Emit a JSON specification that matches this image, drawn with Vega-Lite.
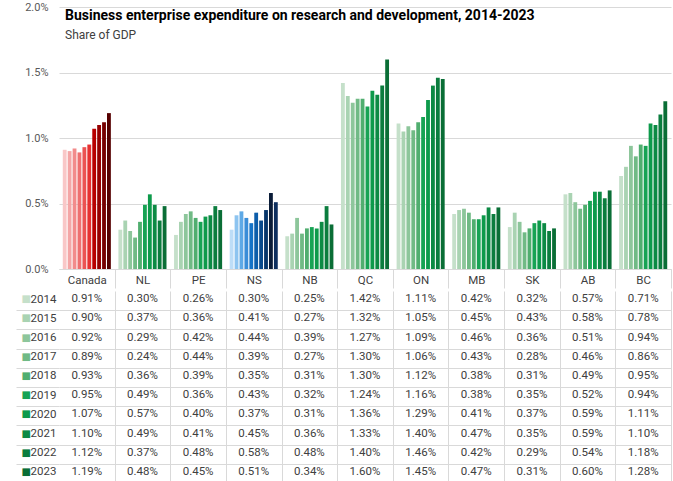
{
  "$schema": "https://vega.github.io/schema/vega-lite/v6.json",
  "background": "white",
  "padding": {"left": 15, "top": 1, "right": 2, "bottom": 0},
  "spacing": -4,
  "config": {"font": "Roboto", "view": {"stroke": null}, "axis": {"labelFont": "Roboto"}},
  "datasets": {
    "d": [
      {"r":"Canada","y":"2014","v":0.0091},{"r":"NL","y":"2014","v":0.0030},{"r":"PE","y":"2014","v":0.0026},{"r":"NS","y":"2014","v":0.0030},{"r":"NB","y":"2014","v":0.0025},{"r":"QC","y":"2014","v":0.0142},{"r":"ON","y":"2014","v":0.0111},{"r":"MB","y":"2014","v":0.0042},{"r":"SK","y":"2014","v":0.0032},{"r":"AB","y":"2014","v":0.0057},{"r":"BC","y":"2014","v":0.0071},
      {"r":"Canada","y":"2015","v":0.0090},{"r":"NL","y":"2015","v":0.0037},{"r":"PE","y":"2015","v":0.0036},{"r":"NS","y":"2015","v":0.0041},{"r":"NB","y":"2015","v":0.0027},{"r":"QC","y":"2015","v":0.0132},{"r":"ON","y":"2015","v":0.0105},{"r":"MB","y":"2015","v":0.0045},{"r":"SK","y":"2015","v":0.0043},{"r":"AB","y":"2015","v":0.0058},{"r":"BC","y":"2015","v":0.0078},
      {"r":"Canada","y":"2016","v":0.0092},{"r":"NL","y":"2016","v":0.0029},{"r":"PE","y":"2016","v":0.0042},{"r":"NS","y":"2016","v":0.0044},{"r":"NB","y":"2016","v":0.0039},{"r":"QC","y":"2016","v":0.0127},{"r":"ON","y":"2016","v":0.0109},{"r":"MB","y":"2016","v":0.0046},{"r":"SK","y":"2016","v":0.0036},{"r":"AB","y":"2016","v":0.0051},{"r":"BC","y":"2016","v":0.0094},
      {"r":"Canada","y":"2017","v":0.0089},{"r":"NL","y":"2017","v":0.0024},{"r":"PE","y":"2017","v":0.0044},{"r":"NS","y":"2017","v":0.0039},{"r":"NB","y":"2017","v":0.0027},{"r":"QC","y":"2017","v":0.0130},{"r":"ON","y":"2017","v":0.0106},{"r":"MB","y":"2017","v":0.0043},{"r":"SK","y":"2017","v":0.0028},{"r":"AB","y":"2017","v":0.0046},{"r":"BC","y":"2017","v":0.0086},
      {"r":"Canada","y":"2018","v":0.0093},{"r":"NL","y":"2018","v":0.0036},{"r":"PE","y":"2018","v":0.0039},{"r":"NS","y":"2018","v":0.0035},{"r":"NB","y":"2018","v":0.0031},{"r":"QC","y":"2018","v":0.0130},{"r":"ON","y":"2018","v":0.0112},{"r":"MB","y":"2018","v":0.0038},{"r":"SK","y":"2018","v":0.0031},{"r":"AB","y":"2018","v":0.0049},{"r":"BC","y":"2018","v":0.0095},
      {"r":"Canada","y":"2019","v":0.0095},{"r":"NL","y":"2019","v":0.0049},{"r":"PE","y":"2019","v":0.0036},{"r":"NS","y":"2019","v":0.0043},{"r":"NB","y":"2019","v":0.0032},{"r":"QC","y":"2019","v":0.0124},{"r":"ON","y":"2019","v":0.0116},{"r":"MB","y":"2019","v":0.0038},{"r":"SK","y":"2019","v":0.0035},{"r":"AB","y":"2019","v":0.0052},{"r":"BC","y":"2019","v":0.0094},
      {"r":"Canada","y":"2020","v":0.0107},{"r":"NL","y":"2020","v":0.0057},{"r":"PE","y":"2020","v":0.0040},{"r":"NS","y":"2020","v":0.0037},{"r":"NB","y":"2020","v":0.0031},{"r":"QC","y":"2020","v":0.0136},{"r":"ON","y":"2020","v":0.0129},{"r":"MB","y":"2020","v":0.0041},{"r":"SK","y":"2020","v":0.0037},{"r":"AB","y":"2020","v":0.0059},{"r":"BC","y":"2020","v":0.0111},
      {"r":"Canada","y":"2021","v":0.0110},{"r":"NL","y":"2021","v":0.0049},{"r":"PE","y":"2021","v":0.0041},{"r":"NS","y":"2021","v":0.0045},{"r":"NB","y":"2021","v":0.0036},{"r":"QC","y":"2021","v":0.0133},{"r":"ON","y":"2021","v":0.0140},{"r":"MB","y":"2021","v":0.0047},{"r":"SK","y":"2021","v":0.0035},{"r":"AB","y":"2021","v":0.0059},{"r":"BC","y":"2021","v":0.0110},
      {"r":"Canada","y":"2022","v":0.0112},{"r":"NL","y":"2022","v":0.0037},{"r":"PE","y":"2022","v":0.0048},{"r":"NS","y":"2022","v":0.0058},{"r":"NB","y":"2022","v":0.0048},{"r":"QC","y":"2022","v":0.0140},{"r":"ON","y":"2022","v":0.0146},{"r":"MB","y":"2022","v":0.0042},{"r":"SK","y":"2022","v":0.0029},{"r":"AB","y":"2022","v":0.0054},{"r":"BC","y":"2022","v":0.0118},
      {"r":"Canada","y":"2023","v":0.0119},{"r":"NL","y":"2023","v":0.0048},{"r":"PE","y":"2023","v":0.0045},{"r":"NS","y":"2023","v":0.0051},{"r":"NB","y":"2023","v":0.0034},{"r":"QC","y":"2023","v":0.0160},{"r":"ON","y":"2023","v":0.0145},{"r":"MB","y":"2023","v":0.0047},{"r":"SK","y":"2023","v":0.0031},{"r":"AB","y":"2023","v":0.0060},{"r":"BC","y":"2023","v":0.0128}
    ]
  },
  "resolve": {"scale": {"x": "independent", "y": "independent"}},
  "vconcat": [
    {
      "width": 612,
      "height": 262,
      "data": {"name": "d"},
      "title": {
        "text": "Business enterprise expenditure on research and development, 2014-2023",
        "subtitle": "Share of GDP",
        "anchor": "start",
        "frame": "group",
        "dx": 6,
        "offset": -40,
        "font": "Roboto",
        "fontSize": 14,
        "fontWeight": "bold",
        "color": "#000000",
        "subtitleFont": "Roboto",
        "subtitleFontSize": 12,
        "subtitleColor": "#404040",
        "subtitlePadding": 7
      },
      "encoding": {
        "x": {
          "field": "r", "type": "nominal",
          "scale": {"domain": ["Canada","NL","PE","NS","NB","QC","ON","MB","SK","AB","BC"], "paddingInner": 0, "paddingOuter": 0},
          "axis": {"title": null, "labelAngle": 0, "labelColor": "#404040", "labelFontSize": 11.5, "tickBand": "extent", "tickSize": 19,
            "tickColor": {"condition": {"test": "datum.index < 0 || datum.value == null", "value": "transparent"}, "value": "#D9D9D9"},
            "domainColor": "#D9D9D9", "labelPadding": -14, "grid": false}
        },
        "xOffset": {"field": "y", "type": "nominal", "scale": {"domain": ["2014","2015","2016","2017","2018","2019","2020","2021","2022","2023"], "paddingInner": 0.22, "paddingOuter": 0.77}},
        "y": {
          "field": "v", "type": "quantitative",
          "scale": {"domain": [0, 0.02], "nice": false},
          "axis": {"title": null, "values": [0, 0.005, 0.01, 0.015, 0.02], "format": ".1%", "labelColor": "#595959", "labelFontSize": 11, "labelPadding": 11, "ticks": false, "domain": false, "gridColor": "#D9D9D9"}
        }
      },
      "layer": [
        {
          "transform": [{"filter": "datum.r == 'Canada'"}],
          "mark": "bar",
          "encoding": {"color": {"field": "y", "type": "nominal", "legend": null, "scale": {"domain": ["2014","2015","2016","2017","2018","2019","2020","2021","2022","2023"], "range": ["#F9C7C7","#F4A6A6","#F28B8B","#EE7070","#EB5252","#E63030","#B80000","#960000","#760000","#560000"]}}}
        },
        {
          "transform": [{"filter": "datum.r == 'NS'"}],
          "mark": "bar",
          "encoding": {"color": {"field": "y", "type": "nominal", "legend": null, "scale": {"domain": ["2014","2015","2016","2017","2018","2019","2020","2021","2022","2023"], "range": ["#BDDDF7","#8DC4F0","#5EA9E6","#3A8DD8","#1573C7","#0C5DAA","#094A8C","#06356A","#0A1C38","#0D2E5E"]}}}
        },
        {
          "transform": [{"filter": "datum.r != 'Canada' && datum.r != 'NS'"}],
          "mark": "bar",
          "encoding": {"color": {"field": "y", "type": "nominal", "legend": null, "scale": {"domain": ["2014","2015","2016","2017","2018","2019","2020","2021","2022","2023"], "range": ["#C5E0CA","#A9D3B2","#8DC69B","#70BA85","#50AE6F","#17A354","#0D9A4B","#0C8A44","#0B7D3E","#0A6E36"]}}}
        }
      ],
      "resolve": {"scale": {"color": "independent"}}
    },
    {
      "width": 612,
      "height": 192,
      "data": {"name": "d"},
      "layer": [
        {
          "mark": {"type": "text", "font": "Roboto", "fontSize": 11.5, "color": "#404040", "align": "center", "baseline": "middle", "dy": -1.5},
          "encoding": {
            "x": {
              "field": "r", "type": "nominal",
              "scale": {"domain": ["Canada","NL","PE","NS","NB","QC","ON","MB","SK","AB","BC"], "paddingInner": 0, "paddingOuter": 0},
              "axis": {"title": null, "labels": false, "ticks": false, "domain": false, "grid": true, "tickBand": "extent",
                "gridColor": {"condition": {"test": "datum.index < 0 || datum.value == null", "value": "transparent"}, "value": "#D9D9D9"}}
            },
            "y": {
              "field": "y", "type": "nominal",
              "scale": {"domain": ["2014","2015","2016","2017","2018","2019","2020","2021","2022","2023"], "paddingInner": 0, "paddingOuter": 0},
              "axis": {
                "title": null, "orient": "left", "labelAlign": "left", "labelPadding": -14, "tickSize": 43, "tickBand": "extent", "domain": false, "grid": true,
                "gridColor": {"condition": {"test": "datum.index < 0 || datum.value == null", "value": "transparent"}, "value": "#D9D9D9"},
                "tickColor": {"condition": {"test": "datum.index < 0 || datum.value == null", "value": "transparent"}, "value": "#D9D9D9"},
                "labelColor": "#404040", "labelFontSize": 11.5, "labelFont": "Roboto", "labelOffset": -1.5
              }
            },
            "text": {"field": "v", "type": "quantitative", "format": ".2%"}
          }
        },
        {
          "mark": {"type": "text", "opacity": 0},
          "encoding": {
            "y": {
              "field": "y", "type": "nominal",
              "axis": {
                "title": null, "orient": "right", "offset": -650, "ticks": false, "domain": false, "grid": false,
                "labelExpr": "'■'", "labelPadding": 0, "labelAlign": "left", "labelFont": "DejaVu Sans", "labelFontSize": 10, "labelOffset": -1.5,
                "labelColor": {"condition": [
                  {"test": "datum.value == '2014'", "value": "#C5E0CA"},
                  {"test": "datum.value == '2015'", "value": "#A9D3B2"},
                  {"test": "datum.value == '2016'", "value": "#8DC69B"},
                  {"test": "datum.value == '2017'", "value": "#70BA85"},
                  {"test": "datum.value == '2018'", "value": "#50AE6F"},
                  {"test": "datum.value == '2019'", "value": "#17A354"},
                  {"test": "datum.value == '2020'", "value": "#0D9A4B"},
                  {"test": "datum.value == '2021'", "value": "#0C8A44"},
                  {"test": "datum.value == '2022'", "value": "#0B7D3E"}
                ], "value": "#0A6E36"}
              }
            }
          }
        }
      ],
      "resolve": {"axis": {"y": "independent"}}
    }
  ]
}
